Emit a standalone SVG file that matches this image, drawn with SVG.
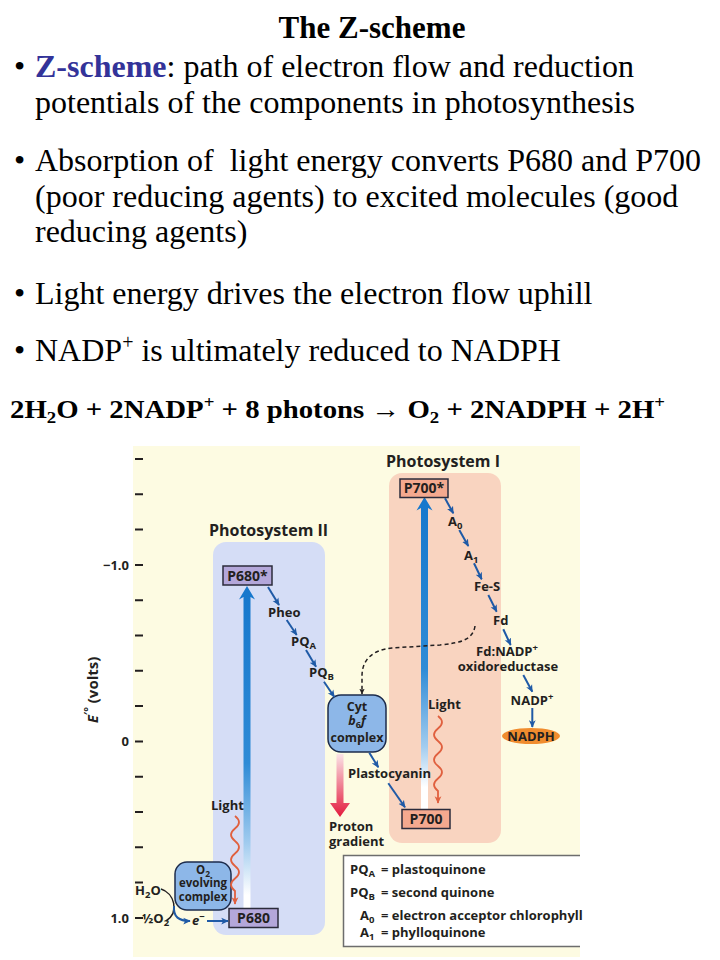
<svg xmlns="http://www.w3.org/2000/svg" width="720" height="960" viewBox="0 0 720 960">
<style>
.t{font-family:'Liberation Serif','Times New Roman',serif;fill:#000}
.s{font-size:32px}
.d{font-family:'Open Sans','Noto Sans','Liberation Sans',sans-serif;font-weight:700;fill:#231f20;font-size:13px}
.c{text-anchor:middle}
.tick{stroke:#231f20;stroke-width:2}
.arr{fill:none;stroke:#1f5aa6;stroke-width:2;marker-end:url(#mb)}
.wave{fill:none;stroke:#e0603f;stroke-width:1.8;marker-end:url(#mr)}
.p68{fill:#b4a7da;stroke:#2b2b3b;stroke-width:1.5}
.p70{fill:#f4a98f;stroke:#2b2b3b;stroke-width:1.5}
.cx{fill:#8db7e8;stroke:#1d2c4c;stroke-width:1.5}
</style>
<defs>
<marker id="mb" viewBox="0 0 10 10" refX="9" refY="5" markerWidth="7.5" markerHeight="7.5" markerUnits="userSpaceOnUse" orient="auto"><path d="M0,0.5 L10,5 L0,9.5 L2.5,5 Z" fill="#1f5aa6"/></marker>
<marker id="mr" viewBox="0 0 10 10" refX="9" refY="5" markerWidth="7.5" markerHeight="7.5" markerUnits="userSpaceOnUse" orient="auto"><path d="M0,0.5 L10,5 L0,9.5 L2.5,5 Z" fill="#e0603f"/></marker>
<marker id="mk" viewBox="0 0 10 10" refX="9" refY="5" markerWidth="6" markerHeight="6" markerUnits="userSpaceOnUse" orient="auto"><path d="M0,0.5 L10,5 L0,9.5 L2.5,5 Z" fill="#231f20"/></marker>
<linearGradient id="g2" gradientUnits="userSpaceOnUse" x1="0" y1="586" x2="0" y2="908">
<stop offset="0" stop-color="#1677cc"/><stop offset="0.55" stop-color="#2f8bd6"/><stop offset="0.8" stop-color="#a2ccef"/><stop offset="0.96" stop-color="#ffffff"/></linearGradient>
<linearGradient id="g1" gradientUnits="userSpaceOnUse" x1="0" y1="497" x2="0" y2="809">
<stop offset="0" stop-color="#1677cc"/><stop offset="0.55" stop-color="#2f8bd6"/><stop offset="0.8" stop-color="#a2ccef"/><stop offset="0.93" stop-color="#ffffff"/></linearGradient>
<linearGradient id="gp" gradientUnits="userSpaceOnUse" x1="0" y1="754" x2="0" y2="817">
<stop offset="0" stop-color="#fbe3e7"/><stop offset="1" stop-color="#e31b3d"/></linearGradient>
</defs>

<!-- slide text -->
<text class="t" x="372" y="38" font-size="31" font-weight="bold" text-anchor="middle">The Z-scheme</text>
<text class="t s" x="14" y="77">•</text>
<text class="t s" x="35" y="77"><tspan font-weight="bold" fill="#333399">Z-scheme</tspan>: path of electron flow and reduction</text>
<text class="t s" x="35" y="113">potentials of the components in photosynthesis</text>
<text class="t s" x="14" y="171">•</text>
<text class="t s" x="35" y="171" xml:space="preserve">Absorption of  light energy converts P680 and P700</text>
<text class="t s" x="35" y="207">(poor reducing agents) to excited molecules (good</text>
<text class="t s" x="35" y="242">reducing agents)</text>
<text class="t s" x="14" y="304">•</text>
<text class="t s" x="35" y="304">Light energy drives the electron flow uphill</text>
<text class="t s" x="14" y="361">•</text>
<text class="t s" x="35" y="361">NADP<tspan dy="-12" font-size="20">+</tspan><tspan dy="12"> is ultimately reduced to NADPH</tspan></text>
<text class="t" x="10" y="418" font-size="26" font-weight="bold" textLength="655" lengthAdjust="spacingAndGlyphs">2H<tspan dy="5" font-size="17">2</tspan><tspan dy="-5">O + 2NADP</tspan><tspan dy="-10" font-size="17">+</tspan><tspan dy="10"> + 8 photons → O</tspan><tspan dy="5" font-size="17">2</tspan><tspan dy="-5"> + 2NADPH + 2H</tspan><tspan dy="-10" font-size="17">+</tspan></text>

<!-- figure background -->
<rect x="133" y="446" width="447" height="511" fill="#fdfbe2"/>
<g id="psII-panel"><rect x="213" y="542" width="112" height="393" rx="13" fill="#d5ddf6"/>
<text class="d c" x="268.5" y="536" style="font-size:16px">Photosystem II</text></g>
<g id="psI-panel"><rect x="389" y="473" width="112" height="370" rx="13" fill="#f9d4c0"/>
<text class="d c" x="443" y="467" style="font-size:16px">Photosystem I</text></g>

<!-- axis -->
<g id="axis">
<path class="tick" d="M135,459H143M135,494.3H143M135,529.6H143M135,564.9H143M135,600.2H143M135,635.5H143M135,670.8H143M135,706.1H143M135,741.4H143M135,776.7H143M135,812H143M135,847.3H143M135,882.6H143M135,917.9H143"/>
<text class="d" x="129" y="569.5" text-anchor="end">−1.0</text>
<text class="d" x="129" y="746" text-anchor="end">0</text>
<text class="d" x="129" y="922.5" text-anchor="end">1.0</text>
<text class="d c" transform="translate(98,690) rotate(-90)" style="font-size:15px"><tspan font-style="italic">E</tspan><tspan dy="-6" font-size="11">′°</tspan><tspan dy="6"> (volts)</tspan></text>
</g>

<!-- big light arrows -->
<g id="light-arrow-II"><path d="M243.5,908 V597 L239,599.5 L247,586 L255,599.5 L250.5,597 V908 Z" fill="url(#g2)"/></g>
<g id="light-arrow-I"><path d="M421,809 V508 L416.5,510.5 L424.5,497 L432.5,510.5 L428,508 V809 Z" fill="url(#g1)"/></g>
<g id="proton-arrow"><path d="M336.5,754 V803 H330 L340,817 L350,803 H343.5 V754 Z" fill="url(#gp)"/></g>

<!-- nodes -->
<g id="P680star"><rect class="p68" x="223" y="566" width="49" height="19"/><text class="d c" x="247.5" y="580.5" style="font-size:14px">P680*</text></g>
<g id="Pheo"><text class="d" x="268" y="616.5">Pheo</text></g>
<g id="PQA"><text class="d" x="291" y="645.5">PQ<tspan dy="3" font-size="9.5">A</tspan></text></g>
<g id="PQB"><text class="d" x="309" y="677">PQ<tspan dy="3" font-size="9.5">B</tspan></text></g>
<g id="Cytb6f"><rect class="cx" x="328" y="695" width="58" height="57" rx="13"/>
<text class="d c" x="357" y="710.5" fill="#1d2c4c" style="font-size:12.5px">Cyt</text>
<text class="d c" x="357" y="725" fill="#1d2c4c" style="font-size:12.5px"><tspan font-style="italic">b</tspan><tspan dy="2.5" font-size="9">6</tspan><tspan dy="-2.5" font-style="italic">f</tspan></text>
<text class="d c" x="357" y="742" fill="#1d2c4c" style="font-size:12.5px">complex</text></g>
<g id="Plastocyanin"><text class="d" x="348" y="777.5">Plastocyanin</text></g>
<g id="P700"><rect class="p70" x="402" y="809.5" width="48" height="19"/><text class="d c" x="426" y="824" style="font-size:14px">P700</text></g>
<g id="P700star"><rect class="p70" x="400" y="479" width="48" height="18.5"/><text class="d c" x="424" y="493" style="font-size:14px">P700*</text></g>
<g id="A0"><text class="d" x="448" y="526">A<tspan dy="3" font-size="9.5">0</tspan></text></g>
<g id="A1"><text class="d" x="464" y="559.5">A<tspan dy="3" font-size="9.5">1</tspan></text></g>
<g id="FeS"><text class="d" x="474" y="591">Fe-S</text></g>
<g id="Fd"><text class="d" x="493" y="624.5">Fd</text></g>
<g id="FNR"><text class="d c" x="507" y="656">Fd:NADP<tspan dy="-5" font-size="9.5">+</tspan></text>
<text class="d c" x="508" y="670.5">oxidoreductase</text></g>
<g id="NADP"><text class="d c" x="532" y="704.5">NADP<tspan dy="-5" font-size="9.5">+</tspan></text></g>
<g id="NADPH"><ellipse cx="531" cy="736" rx="29" ry="8" fill="#f08c2e"/><text class="d c" x="531" y="740.5">NADPH</text></g>
<g id="LightI"><text class="d" x="428" y="708.5">Light</text></g>
<g id="LightII"><text class="d" x="211" y="810">Light</text></g>
<g id="ProtonGradient"><text class="d" x="329" y="830.5">Proton</text><text class="d" x="329" y="846">gradient</text></g>
<g id="O2complex"><rect class="cx" x="175" y="862" width="56" height="48" rx="12"/>
<text class="d c" x="203" y="874" fill="#1d2c4c" style="font-size:11.5px">O<tspan dy="2.5" font-size="8.5">2</tspan></text>
<text class="d c" x="203" y="887" fill="#1d2c4c" style="font-size:11.5px">evolving</text>
<text class="d c" x="203" y="900.5" fill="#1d2c4c" style="font-size:11.5px">complex</text></g>
<g id="H2O"><text class="d" x="135" y="895">H<tspan dy="3" font-size="9.5">2</tspan><tspan dy="-3">O</tspan></text></g>
<g id="halfO2"><text class="d" x="142" y="922.5">½O<tspan dy="3" font-size="9.5">2</tspan></text></g>
<g id="electron"><text class="d" x="192" y="925"><tspan font-style="italic">e</tspan><tspan dy="-5" font-size="9.5">−</tspan></text></g>
<g id="P680"><rect class="p68" x="229" y="908.5" width="49" height="19"/><text class="d c" x="253.5" y="923" style="font-size:14px">P680</text></g>

<!-- legend -->
<g id="legend">
<rect x="343.5" y="855.5" width="236.5" height="91" fill="#ffffff"/>
<path d="M580,855.5 H343.5 V946.5 H580" fill="none" stroke="#6d6d6d" stroke-width="1.5"/>
<text class="d" x="350" y="874">PQ<tspan dy="3" font-size="9.5">A</tspan></text><text class="d" x="381" y="874">= plastoquinone</text>
<text class="d" x="350" y="896.5">PQ<tspan dy="3" font-size="9.5">B</tspan></text><text class="d" x="381" y="896.5">= second quinone</text>
<text class="d" x="360" y="919.5">A<tspan dy="3" font-size="9.5">0</tspan></text><text class="d" x="381" y="919.5">= electron acceptor chlorophyll</text>
<text class="d" x="360" y="937">A<tspan dy="3" font-size="9.5">1</tspan></text><text class="d" x="381" y="937">= phylloquinone</text>
</g>

<!-- connectors -->
<g id="connectors">
<path class="wave" d="M235,816 q8,6.25 0,12.5 t0,12.5 t0,12.5 t0,12.5 t0,12.5 t0,12.5 l0,13"/>
<path class="wave" d="M438,716 q8,6.25 0,12.5 t0,12.5 t0,12.5 t0,12.5 t0,12.5 t0,12.5 l0,12"/>
<line class="arr" x1="268" y1="587" x2="279" y2="605"/>
<line class="arr" x1="286.7" y1="620" x2="296.7" y2="635"/>
<line class="arr" x1="306" y1="650" x2="316" y2="666.7"/>
<line class="arr" x1="324" y1="681.7" x2="334.3" y2="697"/>
<line class="arr" x1="445" y1="498.3" x2="453.3" y2="513.3"/>
<line class="arr" x1="459.3" y1="530" x2="468.3" y2="546"/>
<line class="arr" x1="474" y1="563.3" x2="481.7" y2="579.3"/>
<line class="arr" x1="488.3" y1="595" x2="496.7" y2="611.7"/>
<line class="arr" x1="503.3" y1="629.3" x2="510.7" y2="645"/>
<line class="arr" x1="523.3" y1="675" x2="532.3" y2="691.7"/>
<line class="arr" x1="532.3" y1="708" x2="532.3" y2="727"/>
<line class="arr" x1="369.3" y1="752.7" x2="378.3" y2="767.3"/>
<line class="arr" x1="388.3" y1="783.3" x2="405" y2="807.3"/>
<path d="M475,626 C473,640 460,643 440,645 L392,648 C372,650 362,660 362,676 L362,694" fill="none" stroke="#231f20" stroke-width="1.5" stroke-dasharray="4 3" marker-end="url(#mk)"/>
<path d="M161,889 C174,893 180,912 166,921" fill="none" stroke="#231f20" stroke-width="1.5"/>
<path class="arr" d="M174,906 C173,917 179,921 190,921"/>
<line class="arr" x1="207" y1="921" x2="228" y2="921"/>
</g>
</svg>
